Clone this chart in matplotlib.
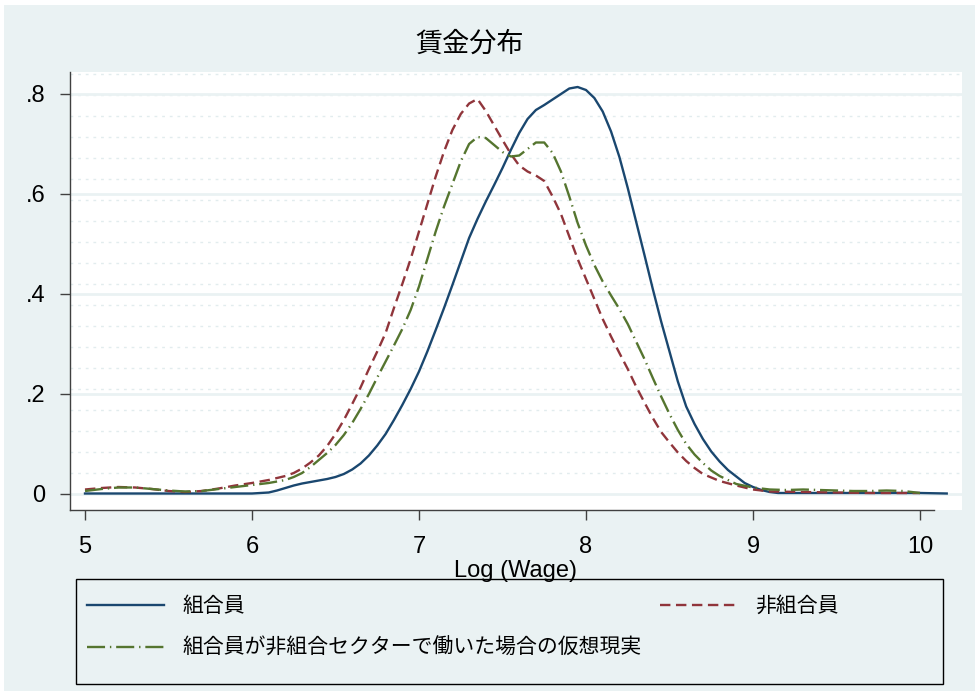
import matplotlib
matplotlib.use("Agg")
import matplotlib.pyplot as plt
from matplotlib.patches import Rectangle
from matplotlib.lines import Line2D

plt.rcParams['font.family'] = ['Liberation Sans', 'Noto Sans CJK JP', 'DejaVu Sans']
plt.rcParams['lines.scale_dashes'] = False

# ---- data ----
title = "賃金分布"
xlabel = "Log (Wage)"
label_union = "組合員"
label_nonunion = "非組合員"
label_cf = "組合員が非組合セクターで働いた場合の仮想現実"

union_x = [5.0, 5.5, 6.0, 6.1, 6.15, 6.2, 6.25, 6.3, 6.35, 6.4, 6.45, 6.5, 6.55, 6.6,
           6.65, 6.7, 6.75, 6.8, 6.85, 6.9, 6.95, 7.0, 7.05, 7.1, 7.15, 7.2, 7.25, 7.3,
           7.35, 7.4, 7.45, 7.5, 7.55, 7.6, 7.65, 7.7, 7.75, 7.8, 7.85, 7.9, 7.95, 8.0,
           8.05, 8.1, 8.15, 8.2, 8.25, 8.3, 8.35, 8.4, 8.45, 8.5, 8.55, 8.6, 8.65, 8.7,
           8.75, 8.8, 8.85, 8.9, 8.95, 9.0, 9.05, 9.1, 9.15, 9.5, 10.0, 10.16]
union_y = [0.001, 0.001, 0.001, 0.003, 0.007, 0.012, 0.017, 0.021, 0.024, 0.027, 0.030,
           0.034, 0.040, 0.049, 0.061, 0.077, 0.097, 0.12, 0.148, 0.178, 0.21, 0.245,
           0.285, 0.328, 0.372, 0.418, 0.465, 0.512, 0.55, 0.585, 0.618, 0.652, 0.688,
           0.722, 0.75, 0.768, 0.778, 0.789, 0.80, 0.811, 0.814, 0.808, 0.792, 0.765,
           0.725, 0.674, 0.612, 0.545, 0.478, 0.41, 0.345, 0.285, 0.225, 0.175, 0.14,
           0.11, 0.085, 0.065, 0.048, 0.035, 0.022, 0.014, 0.008, 0.004, 0.002, 0.002,
           0.002, 0.001]

nonunion_x = [5.0, 5.1, 5.2, 5.3, 5.4, 5.5, 5.6, 5.7, 5.8, 5.9, 6.0, 6.1, 6.2, 6.25, 6.3,
              6.35, 6.4, 6.45, 6.5, 6.55, 6.6, 6.65, 6.7, 6.75, 6.8, 6.85, 6.9, 6.95, 7.0,
              7.05, 7.1, 7.15, 7.2, 7.25, 7.3, 7.35, 7.4, 7.45, 7.5, 7.55, 7.6, 7.65, 7.7,
              7.75, 7.8, 7.85, 7.9, 7.95, 8.0, 8.05, 8.1, 8.15, 8.2, 8.25, 8.3, 8.35, 8.4,
              8.45, 8.5, 8.55, 8.6, 8.65, 8.7, 8.8, 8.9, 9.0, 9.1, 9.3, 9.5, 9.7, 9.9, 10.0]
nonunion_y = [0.009, 0.012, 0.014, 0.013, 0.01, 0.006, 0.004, 0.006, 0.011, 0.017, 0.022,
              0.028, 0.036, 0.042, 0.051, 0.063, 0.077, 0.096, 0.12, 0.148, 0.18, 0.213,
              0.25, 0.285, 0.322, 0.372, 0.42, 0.47, 0.525, 0.58, 0.635, 0.685, 0.728,
              0.76, 0.781, 0.79, 0.766, 0.737, 0.708, 0.68, 0.657, 0.645, 0.637, 0.626,
              0.595, 0.56, 0.515, 0.47, 0.43, 0.39, 0.35, 0.315, 0.282, 0.25, 0.215, 0.183,
              0.152, 0.124, 0.103, 0.083, 0.066, 0.052, 0.04, 0.026, 0.017, 0.009, 0.005,
              0.004, 0.003, 0.002, 0.002, 0.002]

cf_x = [5.0, 5.1, 5.2, 5.3, 5.4, 5.5, 5.6, 5.7, 5.8, 5.9, 6.0, 6.1, 6.2, 6.25, 6.3, 6.35,
        6.4, 6.45, 6.5, 6.55, 6.6, 6.65, 6.7, 6.75, 6.8, 6.85, 6.9, 6.95, 7.0, 7.05, 7.1,
        7.15, 7.2, 7.25, 7.3, 7.35, 7.4, 7.45, 7.5, 7.55, 7.6, 7.65, 7.7, 7.75, 7.8, 7.85,
        7.9, 7.95, 8.0, 8.05, 8.1, 8.15, 8.2, 8.25, 8.3, 8.35, 8.4, 8.45, 8.5, 8.55, 8.6,
        8.65, 8.7, 8.75, 8.8, 8.9, 9.0, 9.1, 9.2, 9.3, 9.4, 9.5, 9.6, 9.7, 9.8, 9.9, 10.0]
cf_y = [0.006, 0.01, 0.013, 0.013, 0.01, 0.007, 0.005, 0.006, 0.01, 0.014, 0.018, 0.022,
        0.028, 0.034, 0.042, 0.054, 0.068, 0.082, 0.098, 0.118, 0.142, 0.17, 0.2, 0.233,
        0.265, 0.297, 0.33, 0.368, 0.415, 0.47, 0.525, 0.575, 0.62, 0.665, 0.7, 0.714,
        0.712, 0.698, 0.684, 0.675, 0.677, 0.69, 0.703, 0.703, 0.682, 0.645, 0.595, 0.542,
        0.497, 0.458, 0.425, 0.397, 0.37, 0.34, 0.305, 0.27, 0.232, 0.195, 0.16, 0.128,
        0.1, 0.079, 0.062, 0.047, 0.036, 0.02, 0.013, 0.009, 0.008, 0.009, 0.008, 0.007,
        0.006, 0.006, 0.007, 0.006, 0.002]

xticks = [5, 6, 7, 8, 9, 10]
yticks = [0, 0.2, 0.4, 0.6, 0.8]
yticklabels = ["0", ".2", ".4", ".6", ".8"]

# ---- style ----
BG = "#EAF2F3"
NAVY = "#1a476f"
MAROON = "#90353b"
GREEN = "#55752f"
W, H = 978, 695

fig = plt.figure(figsize=(W / 100, H / 100), dpi=100, facecolor="white")
fig.patches.append(Rectangle((4 / W, 4 / H), (975 - 4) / W, (690 - 4) / H,
                             transform=fig.transFigure, facecolor=BG, edgecolor="none",
                             zorder=-10))
# legend box (drawn beneath the axes so the axis title stays visible)
fig.patches.append(Rectangle((76 / W, (H - 684) / H), (943 - 76) / W, (684 - 579) / H,
                             transform=fig.transFigure, facecolor=BG, edgecolor="black",
                             lw=1.0, zorder=-5))

ax = fig.add_axes([70 / W, (H - 510) / H, (962 - 70) / W, (510 - 72) / H])
ax.set_facecolor("white")
x0 = 5 + (70 - 85) / 167
x1 = 5 + (962 - 85) / 167
ax.set_xlim(x0, x1)
ax.set_ylim((494 - 510) / 500, (494 - 72) / 500)

# minor dotted texture lines and major gridlines
k = 0
while True:
    yv = (494 - (74 + 21 * k)) / 500
    if yv < 0.005:
        break
    ax.axhline(yv, color="#e2ecee", lw=1.0, ls=(0, (2, 3.5)), zorder=0.5)
    k += 1
for yv in yticks:
    ax.axhline(yv, color=BG, lw=2.0, zorder=0.6)

lw = 1.7
dash_red = (0, (7.5, 4))
dash_green = (0, (13, 3.5, 1, 3.5))
ax.plot(union_x, union_y, color=NAVY, lw=lw, solid_joinstyle="round", zorder=3)
ax.plot(nonunion_x, nonunion_y, color=MAROON, lw=lw, ls=dash_red, zorder=3)
ax.plot(cf_x, cf_y, color=GREEN, lw=lw, ls=dash_green, zorder=3)

for s in ["top", "right"]:
    ax.spines[s].set_visible(False)
ax.spines["left"].set_color("#404040")
ax.spines["bottom"].set_color("#404040")
ax.spines["left"].set_linewidth(1.0)
ax.spines["bottom"].set_linewidth(1.0)
ax.spines["bottom"].set_bounds(x0, 5 + (934 - 85) / 167)

ax.set_xticks(xticks)
ax.set_xticklabels([str(t) for t in xticks])
ax.set_yticks(yticks)
ax.set_yticklabels(yticklabels)
ax.tick_params(axis="both", direction="out", length=7.5, width=1.0, color="#404040",
               labelsize=17, labelcolor="black")
ax.tick_params(axis="x", pad=11)
ax.tick_params(axis="y", pad=10)

ax.set_xlabel(xlabel, fontsize=17, labelpad=2)
fig.text(470 / W, 1 - 44 / H, title, fontsize=19.5, ha="center", va="center",
         family=["Noto Sans CJK JP", "DejaVu Sans"])

h_union = Line2D([], [], color=NAVY, lw=lw)
h_non = Line2D([], [], color=MAROON, lw=lw, ls=dash_red)
h_cf = Line2D([], [], color=GREEN, lw=lw, ls=dash_green)
leg = fig.legend([h_union, h_cf, h_non], [label_union, label_cf, label_nonunion],
                 ncol=2, loc="upper left",
                 bbox_to_anchor=(87 / W, 1 - 595 / H),
                 bbox_transform=fig.transFigure,
                 prop={"family": ["Noto Sans CJK JP", "DejaVu Sans"], "size": 15},
                 frameon=False, handlelength=3.7, handletextpad=0.9, columnspacing=0.85,
                 labelspacing=0.95, borderpad=0, borderaxespad=0)

fig.savefig("out.png", dpi=100, facecolor=fig.get_facecolor())
